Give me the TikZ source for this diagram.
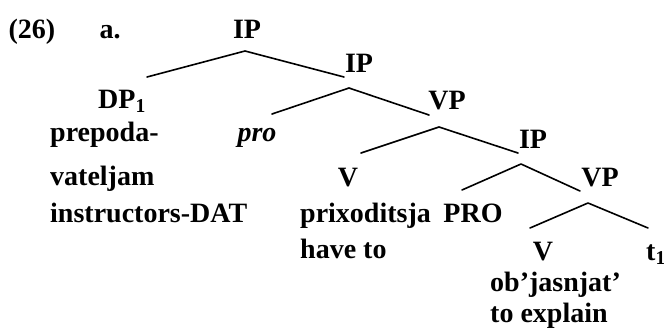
\documentclass[tikz,border=0pt]{standalone}
\usepackage{fontspec}
\setmainfont{Liberation Serif}
\usetikzlibrary{positioning}

\tikzset{
  lbl/.style={anchor=base, inner sep=0pt, font=\fontsize{28}{31}\selectfont\bfseries},
  lblw/.style={lbl, anchor=base west},
  branch/.style={line width=1.6pt, line cap=round, line join=round}
}

\begin{document}
\begin{tikzpicture}[x=1pt,y=-1pt]
            % fix the page to the reference size
            \useasboundingbox (0,0) rectangle (664,329);

            % example number and top node
            \node[lbl] (num) at (32,39) {(26)};
            \node[lbl] (exa) at (110,39) {a.};
            \node[lbl] (ipa) at (247,39) {IP};

            % phrase labels
            \node[lbl] (ipb) at (359,73) {IP};
            \node[lbl] (dp) at (122,108) {DP\textsubscript{1}};
            \node[lbl] (vpa) at (447,110) {VP};
            \node[lbl] (pro) at (257,141) {\itshape pro};
            \node[lbl] (ipc) at (533,148) {IP};
            \node[lbl] (va) at (348,186) {V};
            \node[lbl] (vpb) at (600,186) {VP};
            \node[lbl] (bigpro) at (473,222) {PRO};
            \node[lbl] (vb) at (543,260) {V};
            \node[lblw] (trace) at (646,260) {t\textsubscript{1}};

            % words and glosses
            \node[lblw] (prepa) at (50,141) {prepoda-};
            \node[lblw] (prepb) at (50,185) {vateljam};
            \node[lblw] (glossa) at (50,222) {instructors-DAT};
            \node[lblw] (prix) at (300,222) {prixoditsja};
            \node[lblw] (glossb) at (300,258) {have to};
            \node[lblw] (obj) at (490,291) {ob’jasnjat’};
            \node[lblw] (glossc) at (490,322) {to explain};

            % branch points
            \coordinate (ipa-top) at (245,51);
            \coordinate (ipa-l) at (147,77);
            \coordinate (ipa-r) at (344,77);
            \coordinate (ipb-top) at (349,88);
            \coordinate (ipb-l) at (272,114);
            \coordinate (ipb-r) at (429,115);
            \coordinate (vpa-top) at (439,127);
            \coordinate (vpa-l) at (361,153);
            \coordinate (vpa-r) at (518,153);
            \coordinate (ipc-top) at (521,164);
            \coordinate (ipc-l) at (462,190);
            \coordinate (ipc-r) at (580,191);
            \coordinate (vpb-top) at (588,203);
            \coordinate (vpb-l) at (530,228);
            \coordinate (vpb-r) at (648,228);

            % branches
            \draw[branch] (ipa-l) -- (ipa-top) -- (ipa-r);
            \draw[branch] (ipb-l) -- (ipb-top) -- (ipb-r);
            \draw[branch] (vpa-l) -- (vpa-top) -- (vpa-r);
            \draw[branch] (ipc-l) -- (ipc-top) -- (ipc-r);
            \draw[branch] (vpb-l) -- (vpb-top) -- (vpb-r);
\end{tikzpicture}
\end{document}
